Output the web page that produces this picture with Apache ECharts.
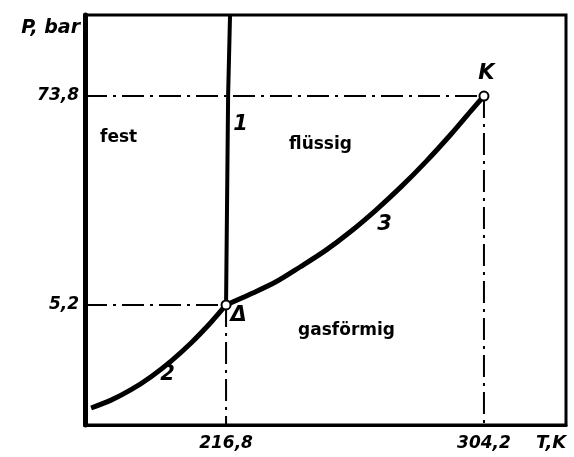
<!DOCTYPE html>
<html>
<head>
<meta charset="utf-8">
<script src="https://cdn.jsdelivr.net/npm/echarts@6/dist/echarts.min.js"></script>
<style>
html,body{margin:0;padding:0;background:#fff;}
#chart{width:574px;height:457px;}
</style>
</head>
<body>
<div id="chart"></div>
<script>
// Tick labels (data values)
const tickT = [216.8, 304.2];
const tickP = [5.2, 73.8];
// Axis extents (schematic diagram)
const rangeT = [169, 332];
const rangeP = [-34.2, 100.4];
// Triple point and critical point
const pointT = [216.8, 304.2];
const pointP = [5.2, 73.8];
// Curve 1: melting line
const meltT = [216.8, 217.5, 218.15];
const meltP = [5.2, 74.1, 100.4];
// Curve 2: sublimation line
const sublT = [171.07, 177.84, 184.62, 191.39, 198.17, 204.94, 211.72, 216.8];
const sublP = [-28.61, -26.03, -22.60, -18.33, -13.21, -7.27, -0.46, 5.2];
// Curve 3: vaporization line
const vapT = [216.8, 224.93, 233.74, 241.87, 250.68, 258.81, 267.61, 276.08, 284.55, 293.02, 299.8, 304.2];
const vapP = [5.2, 8.7, 12.81, 17.67, 23.22, 29.16, 36.38, 43.96, 52.27, 61.26, 68.94, 73.8];
// Region names
const regionNames = ['fest', 'flüssig', 'gasförmig'];
const regionT = [180.55, 248.98, 257.79];
const regionP = [60.01, 57.72, -3.33];
// Curve / point marks
const markNames = ['1', '2', '3', 'Δ', 'K'];
const markT = [221.88, 197.15, 270.66, 221.2, 305.22];
const markP = [64.28, -17.78, 31.46, 1.59, 81.02];

const zip = (a, b) => a.map((v, i) => [v, b[i]]);
const fmt = v => String(v).replace('.', ',');
const FONT = 'DejaVu Sans';
const dashDot = [22, 6, 3, 6];

const guideStyle = {color: '#000', width: 2, type: dashDot};
function guide(data) {
  return {type: 'line', data: data, symbol: 'none', silent: true, lineStyle: guideStyle, z: 2};
}
const textLabel = extra => Object.assign({
  show: true, position: [0, 0], align: 'center', verticalAlign: 'middle', opacity: 1,
  formatter: p => p.name, color: '#000', textBorderWidth: 0, fontFamily: FONT, fontWeight: 'bold'
}, extra);

const chart = echarts.init(document.getElementById('chart'), null, {renderer: 'canvas'});
chart.setOption({
  animation: false,
  backgroundColor: '#fff',
  grid: {left: 85, right: 8, top: 15, bottom: 32, show: true, borderColor: '#000', borderWidth: 3, backgroundColor: 'transparent'},
  xAxis: {
    type: 'value', min: rangeT[0], max: rangeT[1],
    splitLine: {show: false}, axisTick: {show: false},
    axisLine: {show: true, onZero: false, lineStyle: {color: '#000', width: 3}},
    axisLabel: {customValues: tickT, formatter: fmt, color: '#000', fontFamily: FONT, fontStyle: 'italic', fontWeight: 'bold', fontSize: 17, margin: 10},
    name: 'T,K', nameLocation: 'end', nameGap: -30,
    nameTextStyle: {color: '#000', fontFamily: FONT, fontStyle: 'italic', fontWeight: 'bold', fontSize: 18, align: 'left', verticalAlign: 'top', padding: [9, 0, 0, 0]}
  },
  yAxis: {
    type: 'value', min: rangeP[0], max: rangeP[1],
    splitLine: {show: false}, axisTick: {show: false},
    axisLine: {show: true, onZero: false, lineStyle: {color: '#000', width: 5}},
    axisLabel: {customValues: tickP, formatter: fmt, color: '#000', fontFamily: FONT, fontStyle: 'italic', fontWeight: 'bold', fontSize: 17, margin: 6},
    name: 'P, bar', nameLocation: 'end', nameGap: -13,
    nameTextStyle: {color: '#000', fontFamily: FONT, fontStyle: 'italic', fontWeight: 'bold', fontSize: 19, align: 'right', verticalAlign: 'middle', padding: [0, 5, 0, 0]}
  },
  series: [
    guide([[rangeT[0], pointP[0]], [pointT[0], pointP[0]]]),
    guide([[pointT[0], pointP[0]], [pointT[0], rangeP[0]]]),
    guide([[rangeT[0], pointP[1]], [pointT[1], pointP[1]]]),
    guide([[pointT[1], pointP[1]], [pointT[1], rangeP[0]]]),
    {type: 'line', data: zip(meltT, meltP), symbol: 'none', lineStyle: {color: '#000', width: 4}, z: 3},
    {type: 'line', data: zip(sublT, sublP), symbol: 'none', smooth: 0.3, lineStyle: {color: '#000', width: 5}, z: 3},
    {type: 'line', data: zip(vapT, vapP), symbol: 'none', smooth: 0.3, lineStyle: {color: '#000', width: 5}, z: 3},
    {type: 'scatter', data: zip(pointT, pointP), symbol: 'circle', symbolSize: 9,
     itemStyle: {color: '#fff', borderColor: '#000', borderWidth: 2, opacity: 1}, z: 5},
    {type: 'scatter', data: regionNames.map((n, i) => ({name: n, value: [regionT[i], regionP[i]]})),
     symbolSize: 1, itemStyle: {color: 'transparent', opacity: 1}, z: 6,
     label: textLabel({fontSize: 17})},
    {type: 'scatter', data: markNames.map((n, i) => ({name: n, value: [markT[i], markP[i]]})),
     symbolSize: 1, itemStyle: {color: 'transparent', opacity: 1}, z: 6,
     label: textLabel({fontStyle: 'italic', fontSize: 21})}
  ]
});
</script>
</body>
</html>
